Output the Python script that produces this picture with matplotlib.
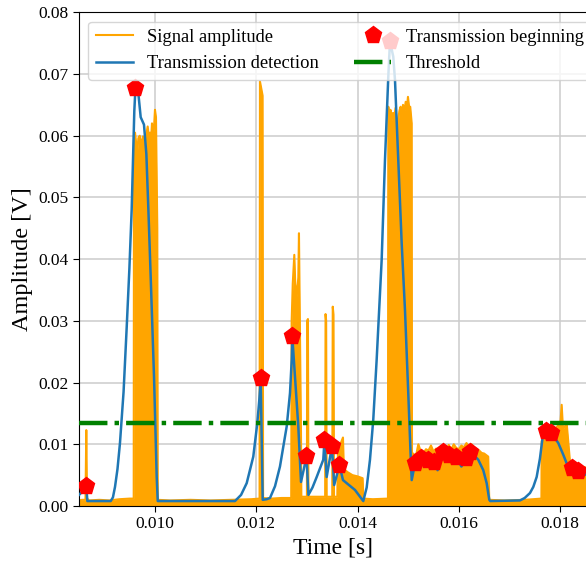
import matplotlib
matplotlib.use("Agg")
import matplotlib.pyplot as plt
from matplotlib.ticker import FormatStrFormatter

plt.rcParams['font.family'] = ['Liberation Serif', 'DejaVu Serif']
plt.rcParams['mathtext.fontset'] = 'stix'

# ---- Signal amplitude (envelope of the received burst signal) ----
sig_t = [0.008500, 0.008560, 0.008628, 0.008644, 0.008658, 0.008700, 0.008900, 0.009100,
         0.009300, 0.009500, 0.009580,
         0.009586, 0.009596, 0.009606, 0.009628, 0.009650, 0.009672, 0.009700, 0.009724,
         0.009744, 0.009764, 0.009784, 0.009803, 0.009830, 0.009856, 0.009880,
         0.009902, 0.009920, 0.009941, 0.009961, 0.009980, 0.010000, 0.010020, 0.010046,
         0.010055,
         0.010300, 0.010700, 0.011100, 0.011500, 0.011900, 0.012065,
         0.012073, 0.012095, 0.012125, 0.012135,
         0.012300, 0.012500, 0.012690,
         0.012699, 0.012720, 0.012751, 0.012770, 0.012800, 0.012830, 0.012843, 0.012860,
         0.012883, 0.012890,
         0.013000, 0.013005, 0.013020, 0.013030,
         0.013200, 0.013360, 0.013368, 0.013380, 0.013390,
         0.013500, 0.013510, 0.013525, 0.013535,
         0.013600, 0.013613, 0.013660, 0.013712, 0.013730, 0.013800, 0.013900, 0.014000,
         0.014100, 0.014115,
         0.014300, 0.014600,
         0.014607, 0.014630, 0.014650, 0.014675, 0.014699, 0.014725, 0.014750, 0.014775,
         0.014798, 0.014825, 0.014850, 0.014875, 0.014897, 0.014925, 0.014950, 0.014970,
         0.014995, 0.015020, 0.015040, 0.015069,
         0.015075, 0.015100, 0.015150, 0.015200, 0.015250, 0.015300, 0.015350, 0.015400,
         0.015450, 0.015500, 0.015550, 0.015600, 0.015650, 0.015700, 0.015750, 0.015800,
         0.015850, 0.015900, 0.015950, 0.016000, 0.016050, 0.016100, 0.016150, 0.016200,
         0.016250, 0.016300, 0.016350, 0.016400, 0.016450, 0.016500, 0.016580, 0.016600,
         0.016900, 0.017300, 0.017630,
         0.017635, 0.017680, 0.017720, 0.017760, 0.017799, 0.017850, 0.017898, 0.017957,
         0.018000, 0.018030, 0.018056, 0.018100, 0.018129, 0.018155, 0.018194, 0.018250,
         0.018293, 0.018350, 0.018392, 0.018450, 0.018530]
sig_a = [0.0009, 0.0010, 0.0010, 0.0123, 0.0012, 0.0009, 0.0010, 0.0009,
         0.0011, 0.0012, 0.0012,
         0.0600, 0.0582, 0.0605, 0.0588, 0.0572, 0.0596, 0.0600, 0.0577,
         0.0593, 0.0599, 0.0580, 0.0572, 0.0603, 0.0615, 0.0598,
         0.0605, 0.0590, 0.0620, 0.0600, 0.0612, 0.0642, 0.0630, 0.0450,
         0.0010,
         0.0009, 0.0010, 0.0009, 0.0010, 0.0011, 0.0012,
         0.0688, 0.0678, 0.0665, 0.0013,
         0.0012, 0.0013, 0.0013,
         0.0300, 0.0360, 0.0407, 0.0360, 0.0340, 0.0370, 0.0442, 0.0300,
         0.0120, 0.0015,
         0.0015, 0.0300, 0.0303, 0.0015,
         0.0015, 0.0015, 0.0311, 0.0300, 0.0015,
         0.0015, 0.0323, 0.0310, 0.0015,
         0.0015, 0.0090, 0.0100, 0.0111, 0.0060, 0.0055, 0.0050, 0.0048,
         0.0045, 0.0012,
         0.0011, 0.0012,
         0.0647, 0.0628, 0.0642, 0.0625, 0.0637, 0.0630, 0.0645, 0.0622,
         0.0620, 0.0640, 0.0647, 0.0632, 0.0650, 0.0640, 0.0655, 0.0642,
         0.0663, 0.0645, 0.0647, 0.0620,
         0.0060, 0.0085, 0.0080, 0.0100, 0.0088, 0.0085, 0.0092, 0.0090,
         0.0098, 0.0088, 0.0093, 0.0090, 0.0097, 0.0092, 0.0088, 0.0099,
         0.0092, 0.0100, 0.0094, 0.0092, 0.0098, 0.0095, 0.0102, 0.0096,
         0.0100, 0.0095, 0.0092, 0.0090, 0.0086, 0.0085, 0.0080, 0.0010,
         0.0009, 0.0010, 0.0012,
         0.0105, 0.0113, 0.0118, 0.0123, 0.0120, 0.0126, 0.0125, 0.0130,
         0.0128, 0.0164, 0.0125, 0.0130, 0.0134, 0.0110, 0.0072, 0.0070,
         0.0068, 0.0066, 0.0065, 0.0063, 0.0062]

# ---- Transmission detection (smoothed detector output) ----
det_t = [0.008500, 0.008600, 0.008644, 0.008665, 0.009126, 0.009170, 0.009211, 0.009260,
         0.009309, 0.009380, 0.009442, 0.009495, 0.009540, 0.009592, 0.009615, 0.009670,
         0.009718, 0.009783, 0.009830, 0.009870, 0.009916, 0.009981, 0.010034, 0.010055,
         0.011580, 0.011700, 0.011811, 0.011941, 0.012020, 0.012060, 0.012087, 0.012127,
         0.012206, 0.012271, 0.012370, 0.012468, 0.012601, 0.012666, 0.012700, 0.012711,
         0.012764, 0.012830, 0.012883, 0.012940, 0.012991, 0.013030, 0.013110, 0.013193,
         0.013323, 0.013347, 0.013390, 0.013495, 0.013538, 0.013643, 0.013712, 0.013830,
         0.013949, 0.014113, 0.014180, 0.014245, 0.014310, 0.014377, 0.014476, 0.014541,
         0.014607, 0.014640, 0.014705, 0.014739, 0.014804, 0.014871, 0.014936, 0.015001,
         0.015049, 0.015069, 0.015134, 0.015262, 0.015390, 0.015509, 0.015580, 0.015677,
         0.015805, 0.015943, 0.016050, 0.016150, 0.016229, 0.016383, 0.016482, 0.016549,
         0.016601, 0.016620, 0.017206, 0.017300, 0.017404, 0.017470, 0.017536, 0.017601,
         0.017655, 0.017720, 0.017829, 0.017963, 0.018062, 0.018129, 0.018233, 0.018362,
         0.018530]
det_a = [0.0018, 0.0026, 0.0032, 0.0008, 0.0008, 0.0014, 0.0031, 0.0060,
         0.0102, 0.0185, 0.0290, 0.0385, 0.0480, 0.0640, 0.0678, 0.0670,
         0.0630, 0.0618, 0.0570, 0.0480, 0.0370, 0.0210, 0.0047, 0.0008,
         0.0008, 0.0018, 0.0037, 0.0080, 0.0134, 0.0172, 0.0207, 0.0010,
         0.0011, 0.0013, 0.0032, 0.0064, 0.0129, 0.0183, 0.0237, 0.0275,
         0.0210, 0.0129, 0.0039, 0.0060, 0.0081, 0.0018, 0.0030, 0.0047,
         0.0075, 0.0107, 0.0047, 0.0097, 0.0034, 0.0066, 0.0042, 0.0034,
         0.0026, 0.0008, 0.0030, 0.0075, 0.0140, 0.0237, 0.0399, 0.0560,
         0.0696, 0.0753, 0.0728, 0.0690, 0.0560, 0.0426, 0.0318, 0.0183,
         0.0080, 0.0042, 0.0069, 0.0077, 0.0075, 0.0072, 0.0058, 0.0088,
         0.0083, 0.0080, 0.0064, 0.0077, 0.0088, 0.0075, 0.0058, 0.0037,
         0.0010, 0.0008, 0.0009, 0.0013, 0.0021, 0.0031, 0.0047, 0.0077,
         0.0112, 0.0121, 0.0118, 0.0102, 0.0083, 0.0069, 0.0061, 0.0056,
         0.0050]

# ---- Transmission beginning markers ----
beg_t = [0.008644, 0.009615, 0.012087, 0.012711, 0.012991, 0.013347, 0.013495, 0.013643,
         0.014640, 0.015134, 0.015262, 0.015390, 0.015509, 0.015677, 0.015805, 0.015943,
         0.016150, 0.016229, 0.017720, 0.017829, 0.018233, 0.018362]
beg_a = [0.0032, 0.0678, 0.0207, 0.0275, 0.0081, 0.0107, 0.0097, 0.0066,
         0.0753, 0.0069, 0.0077, 0.0075, 0.0072, 0.0088, 0.0083, 0.0080,
         0.0077, 0.0088, 0.0121, 0.0118, 0.0061, 0.0056]

threshold = 0.0134
x_ticks = [0.010, 0.012, 0.014, 0.016, 0.018]
y_ticks = [0.00, 0.01, 0.02, 0.03, 0.04, 0.05, 0.06, 0.07, 0.08]

fig = plt.figure(figsize=(5.86, 5.67), dpi=100)
ax = fig.add_axes([79/586, 61/567, 508/586, 493.7/567])

ax.fill_between(sig_t, 0, sig_a, color='orange', lw=0, zorder=2)
ax.plot(sig_t, sig_a, color='orange', lw=1.5, label='Signal amplitude', zorder=2)
ax.plot(det_t, det_a, color='#1f77b4', lw=1.8, label='Transmission detection', zorder=3)
ax.plot(beg_t, beg_a, linestyle='none', marker='p', color='red', markersize=12.5,
        label='Transmission beginning', zorder=4)
ax.axhline(threshold, color='green', lw=3.2, linestyle='-.', label='Threshold', zorder=3.5)

ax.set_xlim(0.0085, 0.01853)
ax.set_ylim(0, 0.08)
ax.set_xticks(x_ticks)
ax.set_yticks(y_ticks)
ax.xaxis.set_major_formatter(FormatStrFormatter('%.3f'))
ax.yaxis.set_major_formatter(FormatStrFormatter('%.2f'))
ax.tick_params(labelsize=12.5, direction='out', length=4)
ax.grid(True, color='#cccccc', lw=1.1, zorder=0)
ax.set_axisbelow(True)
ax.set_xlabel('Time [s]', fontsize=17)
ax.set_ylabel('Amplitude [V]', fontsize=17.5)

ax.legend(loc='upper left', ncol=2, fontsize=13.3, framealpha=0.8, columnspacing=1.9)

fig.savefig('out.png', dpi=100)
